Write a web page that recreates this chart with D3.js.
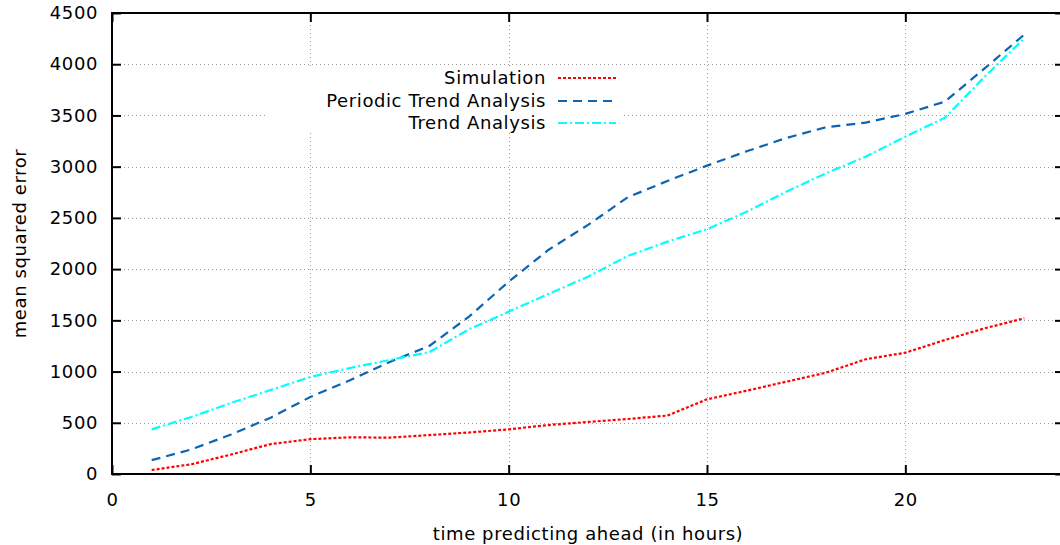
<!DOCTYPE html>
<html>
<head>
<meta charset="utf-8">
<script src="https://cdn.jsdelivr.net/npm/d3@7"></script>
<style>
  html, body { margin: 0; padding: 0; background: #fff; }
  svg { display: block; font-family: "DejaVu Sans", Verdana, sans-serif; }
  svg text { letter-spacing: 0.6px; }
</style>
</head>
<body>
<svg id="chart" width="1060" height="545"></svg>
<script>
// Forecast horizon in hours
const hours = d3.range(1, 24);
// Mean squared error per horizon, one array per method
const simulation = [39, 95, 190, 292, 340, 358, 355, 380, 405, 436, 478, 508, 537, 570, 729, 813, 901, 989, 1120, 1184, 1308, 1422, 1520];
const periodicTrend = [135, 240, 385, 550, 752, 915, 1093, 1250, 1536, 1877, 2187, 2431, 2701, 2860, 3010, 3150, 3280, 3385, 3430, 3515, 3635, 3960, 4290];
const trend = [436, 556, 693, 820, 947, 1035, 1113, 1190, 1412, 1585, 1757, 1926, 2128, 2268, 2389, 2560, 2756, 2935, 3097, 3293, 3478, 3878, 4253];

const seriesNames = ["Simulation", "Periodic Trend Analysis", "Trend Analysis"];
const xTicks = [0, 5, 10, 15, 20];
const yTicks = [0, 500, 1000, 1500, 2000, 2500, 3000, 3500, 4000, 4500];

const series = [
  { name: seriesNames[0], values: simulation, color: "#ff0000", dash: "3,2", width: 2.2 },
  { name: seriesNames[1], values: periodicTrend, color: "#0c64b2", dash: "9,6", width: 2.2 },
  { name: seriesNames[2], values: trend, color: "#00ffff", dash: "9,3,2,3", width: 2.2 }
];

const svg = d3.select("#chart");
const plotL = 112, plotR = 1064, plotT = 13, plotB = 474;

const x = d3.scaleLinear().domain([0, 24]).range([plotL, plotR]);
const y = d3.scaleLinear().domain([0, 4500]).range([plotB, plotT]);

// Grid
const grid = svg.append("g").attr("stroke", "#999").attr("stroke-width", 1)
  .attr("stroke-dasharray", "1,3");
grid.selectAll("line.h").data(yTicks.filter(v => v > 0 && v < 4500)).join("line")
  .attr("class", "h")
  .attr("x1", plotL).attr("x2", plotR)
  .attr("y1", d => Math.round(y(d)) + 0.5).attr("y2", d => Math.round(y(d)) + 0.5);
grid.selectAll("line.v").data(xTicks.filter(v => v > 0)).join("line")
  .attr("class", "v")
  .attr("y1", plotT).attr("y2", plotB)
  .attr("x1", d => Math.round(x(d)) + 0.5).attr("x2", d => Math.round(x(d)) + 0.5);

// Opaque key background
svg.append("rect").attr("x", 268).attr("y", 66).attr("width", 356).attr("height", 67)
  .attr("fill", "#fff");

// Series lines
const line = d3.line().x((d, i) => x(hours[i])).y(d => y(d));
series.forEach(s => {
  svg.append("path").datum(s.values)
    .attr("fill", "none")
    .attr("stroke", s.color)
    .attr("stroke-width", s.width)
    .attr("stroke-dasharray", s.dash)
    .attr("d", line);
});

// Axes with inward ticks
const fontSize = 18;
const axisStyle = g => {
  g.select(".domain").remove();
  g.selectAll(".tick line").attr("stroke", "#000").attr("stroke-width", 2);
  g.selectAll(".tick text").attr("fill", "#000").attr("font-size", fontSize)
    .attr("font-family", "DejaVu Sans, Verdana, sans-serif");
};

svg.append("g").attr("transform", `translate(${plotL},0)`)
  .call(d3.axisLeft(y).tickValues(yTicks).tickFormat(d3.format("d"))
    .tickSizeInner(-9).tickSizeOuter(0).tickPadding(14))
  .call(axisStyle);

svg.append("g").attr("transform", `translate(${plotR},0)`)
  .call(d3.axisRight(y).tickValues(yTicks).tickFormat("")
    .tickSizeInner(-9).tickSizeOuter(0))
  .call(axisStyle);

svg.append("g").attr("transform", `translate(0,${plotB})`)
  .call(d3.axisBottom(x).tickValues(xTicks).tickFormat(d3.format("d"))
    .tickSizeInner(-9).tickSizeOuter(0).tickPadding(19))
  .call(axisStyle);

svg.append("g").attr("transform", `translate(0,${plotT})`)
  .call(d3.axisTop(x).tickValues(xTicks).tickFormat("")
    .tickSizeInner(-9).tickSizeOuter(0))
  .call(axisStyle);

// Plot border
svg.append("rect").attr("x", plotL).attr("y", plotT)
  .attr("width", plotR - plotL).attr("height", plotB - plotT)
  .attr("fill", "none").attr("stroke", "#000").attr("stroke-width", 2);

// Axis titles
svg.append("text").attr("x", (plotL + plotR) / 2).attr("y", 540)
  .attr("text-anchor", "middle").attr("font-size", fontSize).attr("fill", "#000")
  .text("time predicting ahead (in hours)");

svg.append("text")
  .attr("transform", `translate(26,${(plotT + plotB) / 2}) rotate(-90)`)
  .attr("text-anchor", "middle").attr("font-size", fontSize).attr("fill", "#000")
  .text("mean squared error");

// Key
const keyRowY = [78, 101, 123];
series.forEach((s, i) => {
  svg.append("text").attr("x", 546).attr("y", keyRowY[i]).attr("dy", "0.35em")
    .attr("text-anchor", "end").attr("font-size", fontSize).attr("fill", "#000")
    .text(s.name);
  svg.append("line").attr("x1", 558).attr("x2", 616)
    .attr("y1", keyRowY[i]).attr("y2", keyRowY[i])
    .attr("stroke", s.color).attr("stroke-width", s.width)
    .attr("stroke-dasharray", s.dash);
});
</script>
</body>
</html>
